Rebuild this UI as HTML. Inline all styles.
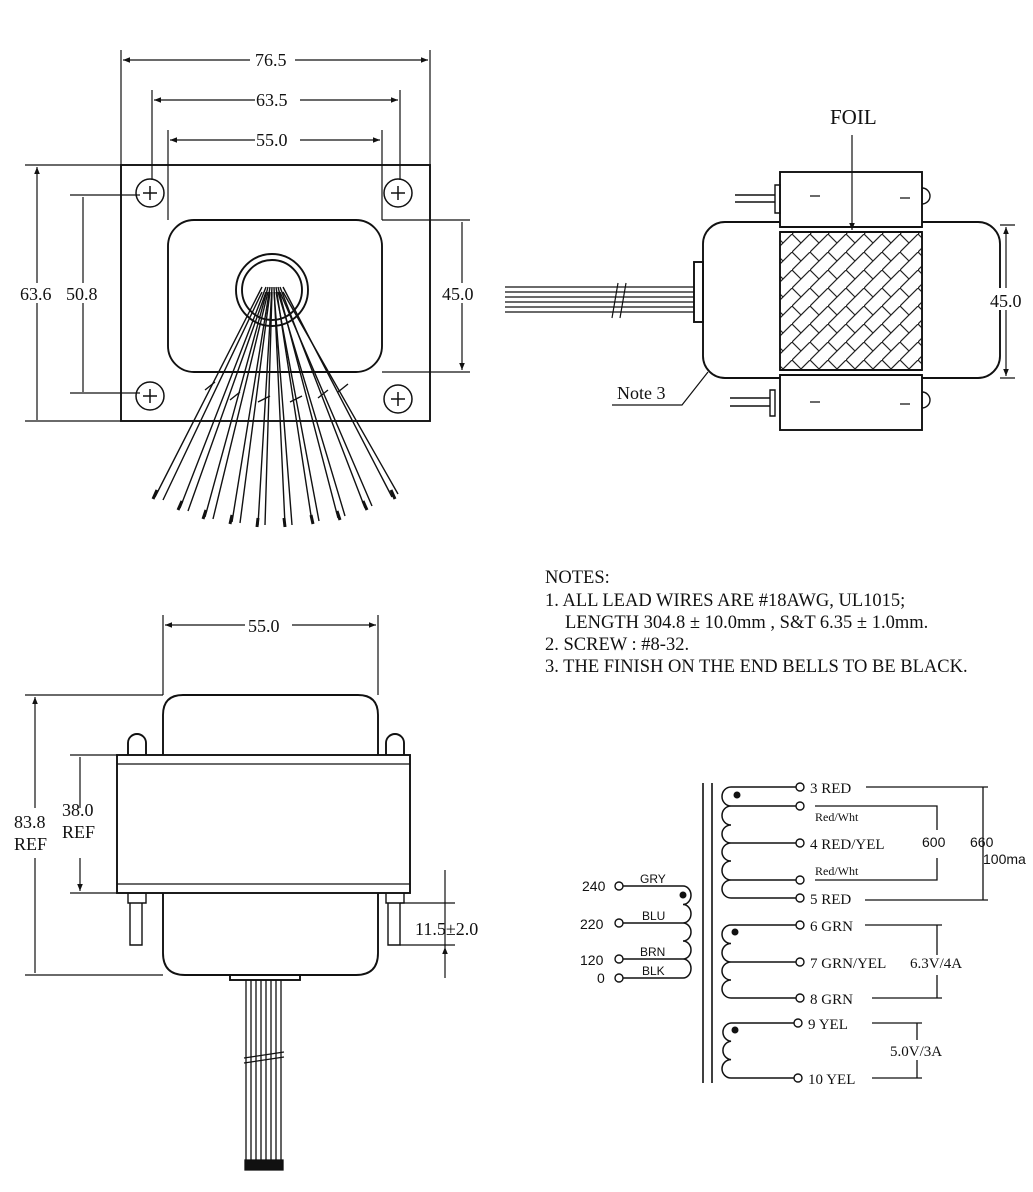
<!DOCTYPE html>
<html><head><meta charset="utf-8"><style>
html,body{margin:0;padding:0;background:#fff}
svg{display:block}
text{font-family:"Liberation Serif",serif;fill:#111}
.s{font-family:"Liberation Sans",sans-serif}
</style></head><body>
<svg width="1033" height="1192" viewBox="0 0 1033 1192" xmlns="http://www.w3.org/2000/svg" stroke="#111" fill="none" stroke-width="1.9">
<defs>
<marker id="a" viewBox="0 0 10 10" refX="10" refY="5" markerWidth="6" markerHeight="6" orient="auto-start-reverse"><path d="M0,1 L10,5 L0,9 z" fill="#111" stroke="none"/></marker>
<pattern id="h" width="18" height="18" patternUnits="userSpaceOnUse"><path d="M0,18 L18,0 M0,0 L9,9" stroke="#222" stroke-width="1.2"/></pattern>
</defs>

<!-- TOP LEFT VIEW -->
<rect x="121" y="165" width="309" height="256"/>
<rect x="168" y="220" width="214" height="152" rx="26"/>
<circle cx="272" cy="290" r="36"/><circle cx="272" cy="290" r="30"/>
<g stroke-width="1.5">
<circle cx="150" cy="193" r="14"/><circle cx="398" cy="193" r="14"/><circle cx="150" cy="396" r="14"/><circle cx="398" cy="399" r="14"/>
<path d="M143,193h14M150,186v14M391,193h14M398,186v14M143,396h14M150,389v14M391,399h14M398,392v14"/>
</g>
<g stroke-width="1.4">
<path d="M262,287 L155,497 M266,287 L180,508 M268,287 L205,517 M270,287 L232,522 M272,287 L258,525 M274,287 L285,525 M276,287 L312,522 M278,287 L338,518 M280,287 L365,508 M283,287 L392,497"/>
<path d="M262,292 L163,500 M266,292 L188,511 M268,292 L213,519 M270,292 L240,523 M272,292 L265,525 M274,292 L292,525 M276,292 L319,521 M278,292 L345,516 M280,292 L372,506 M283,292 L398,494"/>
<path d="M205,390l10,-8M230,400l10,-8M258,402l12,-6M290,402l12,-6M318,398l10,-8M338,392l10,-8"/>
<path d="M153,499l4,-9M178,510l4,-9M203,519l3,-9M230,524l2,-9M257,527l1,-9M285,527l-1,-9M313,524l-2,-9M340,520l-3,-9M367,510l-4,-9M395,499l-4,-9" stroke-width="3"/>
</g>
<!-- dims -->
<g stroke-width="1.2">
<path d="M121,165V50M430,165V50M152,180V90M400,180V90M168,220V130M382,220V130"/>
<path d="M123,60H250M295,60H428" marker-start="url(#a)" marker-end="url(#a)"/>
<path d="M154,100H255M300,100H398" marker-start="url(#a)" marker-end="url(#a)"/>
<path d="M170,140H255M300,140H380" marker-start="url(#a)" marker-end="url(#a)"/>
<path d="M25,165H121M25,421H121M70,195H140M70,393H140M382,220H470M382,372H470"/>
<path d="M37,167V420M83,197V392M462,222V370" marker-start="url(#a)" marker-end="url(#a)"/>
</g>
<g stroke="none" font-size="18">
<rect x="252" y="50" width="42" height="20" fill="#fff"/><text x="255" y="66">76.5</text>
<rect x="255" y="90" width="44" height="20" fill="#fff"/><text x="256" y="106">63.5</text>
<rect x="255" y="130" width="44" height="20" fill="#fff"/><text x="256" y="146">55.0</text>
<rect x="20" y="283" width="90" height="20" fill="#fff"/><text x="20" y="300">63.6</text><text x="66" y="300">50.8</text>
<rect x="440" y="283" width="40" height="20" fill="#fff"/><text x="442" y="300">45.0</text>
</g>

<!-- TOP RIGHT VIEW -->
<rect x="703" y="222" width="297" height="156" rx="22"/>
<rect x="780" y="172" width="142" height="55" fill="#fff"/>
<rect x="780" y="232" width="142" height="138" fill="url(#h)"/>
<rect x="780" y="375" width="142" height="55" fill="#fff"/>
<path d="M780,227H922M780,232H922M780,370H922M780,375H922"/>
<path d="M735,195h40M735,202h40M775,185v28h5v-28zM922,188a8,8 0 0 1 0,16M730,398h40M730,406h40M770,390v26h5v-26zM922,392a8,8 0 0 1 0,16" stroke-width="1.4"/>
<path d="M810,196h10M900,198h10M810,402h10M900,404h10" stroke-width="1.2"/>
<rect x="694" y="262" width="9" height="60"/>
<g stroke-width="1.2">
<path d="M505,287H694M505,292H694M505,297H694M505,302H694M505,307H694M505,312H694"/>
<path d="M612,318l6,-35M620,318l6,-35"/>
<path d="M1000,225H1015M1000,378H1015"/>
<path d="M1006,227V376" marker-start="url(#a)" marker-end="url(#a)"/>
<path d="M852,135V230" marker-end="url(#a)"/>
<path d="M612,405H682L708,372"/>
</g>
<g stroke="none">
<rect x="988" y="288" width="40" height="22" fill="#fff"/><text x="990" y="307" font-size="18">45.0</text>
<text x="830" y="124" font-size="21">FOIL</text>
<text x="617" y="399" font-size="18">Note 3</text>
</g>

<!-- NOTES -->
<g stroke="none" font-size="18.5">
<text x="545" y="583">NOTES:</text>
<text x="545" y="606">1. ALL LEAD WIRES ARE #18AWG, UL1015;</text>
<text x="565" y="628">LENGTH 304.8 ± 10.0mm , S&amp;T 6.35 ± 1.0mm.</text>
<text x="545" y="650">2. SCREW : #8-32.</text>
<text x="545" y="672">3. THE FINISH ON THE END BELLS TO BE BLACK.</text>
</g>

<!-- BOTTOM LEFT VIEW -->
<path d="M163,755V715q0,-20 20,-20h175q20,0 20,20v40"/>
<path d="M163,893v60q0,22 22,22h171q22,0 22,-22v-60"/>
<rect x="117" y="755" width="293" height="138"/>
<path d="M117,764H410M117,884H410" stroke-width="1.2"/>
<path d="M128,755v-12a9,9 0 0 1 18,0v12M386,755v-12a9,9 0 0 1 18,0v12"/>
<path d="M128,893v10h18v-10M130,903v42h12v-42M386,893v10h18v-10M388,903v42h12v-42" stroke-width="1.4"/>
<rect x="230" y="975" width="70" height="5"/>
<g stroke-width="1.3">
<path d="M246,980V1168M251,980V1168M256,980V1168M261,980V1168M266,980V1168M271,980V1168M276,980V1168M281,980V1168"/>
<path d="M244,1058l40,-6M244,1063l40,-6"/>
<path d="M245,1160h38v10h-38z" fill="#111"/>
</g>
<g stroke-width="1.2">
<path d="M163,695V615M378,695V615"/>
<path d="M165,625H245M292,625H376" marker-start="url(#a)" marker-end="url(#a)"/>
<path d="M25,695H163M25,975H163M70,755H117M70,893H117"/>
<path d="M35,697V973M80,757V891" marker-start="url(#a)" marker-end="url(#a)"/>
<path d="M400,903H455M400,945H455"/>
<path d="M445,870V901M445,978V947" marker-end="url(#a)"/>
<path d="M445,901V947"/>
</g>
<g stroke="none" font-size="18">
<rect x="246" y="615" width="44" height="20" fill="#fff"/><text x="248" y="632">55.0</text>
<rect x="12" y="808" width="95" height="50" fill="#fff"/>
<text x="14" y="828">83.8</text><text x="14" y="850">REF</text>
<text x="62" y="816">38.0</text><text x="62" y="838">REF</text>
<text x="415" y="935">11.5±2.0</text>
</g>

<!-- SCHEMATIC -->
<path d="M703,783V1083M712,783V1083" stroke-width="1.6"/>
<g stroke-width="1.5">
<path d="M796,787H731 a9,9.5 0 0 0 0,19 a9,9.5 0 0 0 0,19 a9,9 0 0 0 0,18 a9,9 0 0 0 0,18 a9,9.5 0 0 0 0,19 a9,9 0 0 0 0,18 H796"/>
<path d="M731,806H796M731,843H796M731,880H796"/>
<path d="M796,925H731 a9,9.25 0 0 0 0,18.5 a9,9.25 0 0 0 0,18.5 a9,9 0 0 0 0,18 a9,9 0 0 0 0,18 H796M731,962H796"/>
<path d="M796,1023H731 a9,9.2 0 0 0 0,18.3 a9,9.2 0 0 0 0,18.3 a9,9.2 0 0 0 0,18.4 H796"/>
<path d="M623,886H683 a8,9.25 0 0 1 0,18.5 a8,9.25 0 0 1 0,18.5 a8,9 0 0 1 0,18 a8,9 0 0 1 0,18 a8,9.5 0 0 1 0,19 H623M623,923H683M623,959H683"/>
</g>
<g stroke-width="1.4" fill="#fff">
<circle cx="800" cy="787" r="4"/><circle cx="800" cy="806" r="4"/><circle cx="800" cy="843" r="4"/><circle cx="800" cy="880" r="4"/><circle cx="800" cy="898" r="4"/>
<circle cx="800" cy="925" r="4"/><circle cx="800" cy="962" r="4"/><circle cx="800" cy="998" r="4"/>
<circle cx="798" cy="1023" r="4"/><circle cx="798" cy="1078" r="4"/>
<circle cx="619" cy="886" r="4"/><circle cx="619" cy="923" r="4"/><circle cx="619" cy="959" r="4"/><circle cx="619" cy="978" r="4"/>
</g>
<g fill="#111" stroke="none"><circle cx="737" cy="795" r="3.5"/><circle cx="735" cy="932" r="3.5"/><circle cx="735" cy="1030" r="3.5"/><circle cx="683" cy="895" r="3.5"/></g>
<g stroke-width="1.3">
<path d="M866,787H988M983,787V900M865,900H988"/>
<path d="M815,806H937V830M937,858V880H815"/>
<path d="M865,925H942M937,925V955M937,975V998M872,998H942"/>
<path d="M872,1023H922M917,1023V1040M917,1060V1078M872,1078H922"/>
</g>
<g stroke="none" font-size="15">
<text x="810" y="793">3 RED</text>
<text x="815" y="821" font-size="12">Red/Wht</text>
<text x="810" y="849">4 RED/YEL</text>
<text x="815" y="875" font-size="12">Red/Wht</text>
<text x="810" y="904">5 RED</text>
<text x="810" y="931">6 GRN</text>
<text x="810" y="968">7 GRN/YEL</text>
<text x="810" y="1004">8 GRN</text>
<text x="808" y="1029">9 YEL</text>
<text x="808" y="1084">10 YEL</text>
<text x="910" y="968">6.3V/4A</text>
<text x="890" y="1056">5.0V/3A</text>
<text x="922" y="847" font-size="14" class="s">600</text>
<text x="970" y="847" font-size="14" class="s">660</text>
<text x="983" y="864" font-size="14" class="s">100ma</text>
<text x="582" y="891" font-size="14" class="s">240</text>
<text x="580" y="929" font-size="14" class="s">220</text>
<text x="580" y="965" font-size="14" class="s">120</text>
<text x="597" y="983" font-size="14" class="s">0</text>
<text x="640" y="883" font-size="12" class="s">GRY</text>
<text x="642" y="920" font-size="12" class="s">BLU</text>
<text x="640" y="956" font-size="12" class="s">BRN</text>
<text x="642" y="975" font-size="12" class="s">BLK</text>
</g>
</svg>
</body></html>
